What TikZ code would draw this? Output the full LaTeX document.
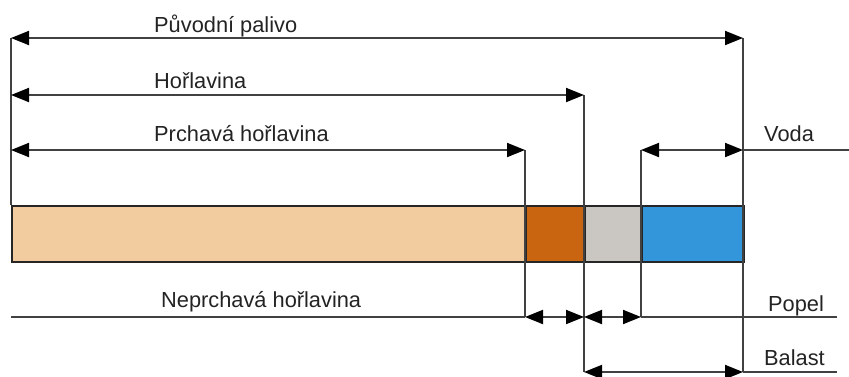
\documentclass[tikz,border=0pt]{standalone}
\usepackage{fontspec}
\setmainfont{Liberation Sans}
\usetikzlibrary{arrows.meta}
\definecolor{lightor}{RGB}{242,204,158}
\definecolor{darkor}{RGB}{201,100,16}
\definecolor{ashgray}{RGB}{202,199,194}
\definecolor{waterblue}{RGB}{52,150,218}
\definecolor{linegray}{RGB}{65,65,65}
\definecolor{txtgray}{RGB}{35,35,35}
\begin{document}
\begin{tikzpicture}[x=1pt,y=-1pt,
  tipshape/.tip={Triangle[length=18pt,width=14pt,color=black]},
  dim/.style={draw=linegray, line width=1.9pt},
  dimarrow/.style={dim, tipshape-tipshape},
  lbl/.style={anchor=base west, inner sep=0pt, font=\fontsize{21.8}{24}\selectfont, text=txtgray},
  seg/.style={draw=black!85, line width=2pt, anchor=north west, inner sep=0pt, minimum height=56pt}]
\useasboundingbox (0,0) rectangle (849,376);

% bar
\node[seg, fill=lightor, minimum width=514pt] (s1) at (11,205) {};
\node[seg, fill=darkor, minimum width=59pt] (s2) at (525,205) {};
\node[seg, fill=ashgray, minimum width=57pt] (s3) at (584,205) {};
\node[seg, fill=waterblue, minimum width=102pt] (s4) at (641,205) {};

% coordinates
\coordinate (a1) at (11,38);
\coordinate (a2) at (743,38);
\coordinate (b1) at (11,95);
\coordinate (b2) at (584,95);
\coordinate (c1) at (11,150);
\coordinate (c2) at (525,150);
\coordinate (v1) at (641,150);
\coordinate (v2) at (743,150);
\coordinate (v3) at (849,150);
\coordinate (n1) at (11,317);
\coordinate (n2) at (525,317);
\coordinate (n3) at (584,317);
\coordinate (n4) at (641,317);
\coordinate (n5) at (837,317);
\coordinate (m1) at (584,372);
\coordinate (m2) at (743,372);
\coordinate (m3) at (837,372);

% extension lines
\draw[dim] (a1) -- (s1.north west);
\draw[dim] (a2) -- (m2);
\draw[dim] (b2) -- (m1);
\draw[dim] (c2) -- (n2);
\draw[dim] (v1) -- (n4);

% dimension arrows
\draw[dimarrow] (a1) -- (a2);
\draw[dimarrow] (b1) -- (b2);
\draw[dimarrow] (c1) -- (c2);
\draw[dimarrow] (v1) -- (v2);
\draw[dim] (v2) -- (v3);
\draw[dim] (n1) -- (n2);
\draw[dimarrow] (n2) -- (n3);
\draw[dimarrow] (n3) -- (n4);
\draw[dim] (n4) -- (n5);
\draw[dimarrow] (m1) -- (m2);
\draw[dim] (m2) -- (m3);

% labels
\node[lbl] (tp) at (154,32) {Původní palivo};
\node[lbl] (th) at (154,88) {Hořlavina};
\node[lbl] (tc) at (154,141) {Prchavá hořlavina};
\node[lbl] (tv) at (764,141) {Voda};
\node[lbl] (tn) at (161,307) {Neprchavá hořlavina};
\node[lbl] (to) at (768,311) {Popel};
\node[lbl] (tb) at (764,365) {Balast};
\end{tikzpicture}
\end{document}
